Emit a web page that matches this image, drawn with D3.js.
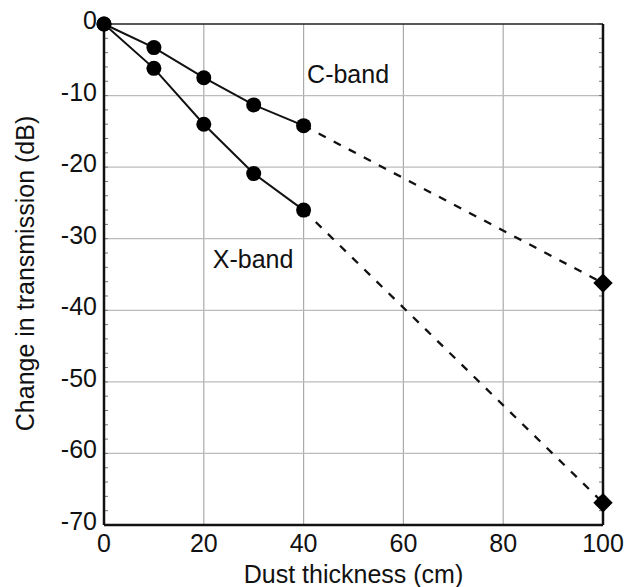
<!DOCTYPE html>
<html>
<head>
<meta charset="utf-8">
<script src="https://cdn.jsdelivr.net/npm/d3@7"></script>
<style>
  body { margin: 0; background: #fff; }
  text { font-family: "Liberation Sans", Arial, sans-serif; fill: #111; }
</style>
</head>
<body>
<svg id="chart" width="636" height="587"></svg>
<script>
// measured points
const thickness = [0, 10, 20, 30, 40];
const cBand = [0, -3.3, -7.5, -11.3, -14.2];
const xBand = [0, -6.2, -14.0, -20.9, -26.0];
// extrapolated values at 100 cm
const extrapX = 100;
const cBandExtrap = -36.2;
const xBandExtrap = -66.9;

const xTicks = [0, 20, 40, 60, 80, 100];
const yTicks = [0, -10, -20, -30, -40, -50, -60, -70];

const svg = d3.select("#chart");
const margin = {left: 104, top: 24, right: 33, bottom: 62};
const width = 636 - margin.left - margin.right;
const height = 587 - margin.top - margin.bottom;

const x = d3.scaleLinear().domain([0, 100]).range([0, width]);
const y = d3.scaleLinear().domain([0, -70]).range([0, height]);

const g = svg.append("g").attr("transform", `translate(${margin.left},${margin.top})`);

// grid
g.selectAll(".vgrid").data(xTicks.slice(1, -1)).enter().append("line")
  .attr("x1", d => x(d)).attr("x2", d => x(d))
  .attr("y1", 0).attr("y2", height)
  .attr("stroke", "#aaa").attr("stroke-width", 1.2);
g.selectAll(".hgrid").data(yTicks.slice(1, -1)).enter().append("line")
  .attr("x1", 0).attr("x2", width)
  .attr("y1", d => y(d)).attr("y2", d => y(d))
  .attr("stroke", "#bbb").attr("stroke-width", 1.2);

// minor ticks on left and right axes (every 2 dB, inside)
const minor = d3.range(0, -70.01, -2);
g.selectAll(".mtl").data(minor).enter().append("line")
  .attr("x1", 0).attr("x2", 4).attr("y1", d => y(d)).attr("y2", d => y(d))
  .attr("stroke", "#777").attr("stroke-width", 1);
g.selectAll(".mtr").data(minor).enter().append("line")
  .attr("x1", width).attr("x2", width - 4).attr("y1", d => y(d)).attr("y2", d => y(d))
  .attr("stroke", "#777").attr("stroke-width", 1);

// frame
g.append("line").attr("x1", 0).attr("x2", width).attr("y1", 0).attr("y2", 0)
  .attr("stroke", "#222").attr("stroke-width", 1.5);
g.append("line").attr("x1", width).attr("x2", width).attr("y1", 0).attr("y2", height)
  .attr("stroke", "#111").attr("stroke-width", 2.5);
g.append("line").attr("x1", 0).attr("x2", 0).attr("y1", 0).attr("y2", height)
  .attr("stroke", "#111").attr("stroke-width", 2.5);
g.append("line").attr("x1", 0).attr("x2", width).attr("y1", height).attr("y2", height)
  .attr("stroke", "#111").attr("stroke-width", 2.5);

// tick labels
g.selectAll(".xl").data(xTicks).enter().append("text")
  .attr("x", d => x(d)).attr("y", height + 27)
  .attr("text-anchor", "middle").attr("font-size", 25)
  .text(d => d);
g.selectAll(".yl").data(yTicks).enter().append("text")
  .attr("x", -7).attr("y", d => y(d) + 5)
  .attr("text-anchor", "end").attr("font-size", 25)
  .text(d => d === 0 ? "0" : "-" + Math.abs(d));

// axis titles
g.append("text").attr("x", width / 2).attr("y", height + 58)
  .attr("text-anchor", "middle").attr("font-size", 25)
  .text("Dust thickness (cm)");
g.append("text").attr("transform", `translate(${-70},${height / 2 - 1}) rotate(-90)`)
  .attr("text-anchor", "middle").attr("font-size", 25)
  .text("Change in transmission (dB)");

// lines
const line = d3.line().x(d => x(d[0])).y(d => y(d[1]));
const series = [cBand, xBand];
const extraps = [cBandExtrap, xBandExtrap];
series.forEach((vals, i) => {
  const pts = thickness.map((t, j) => [t, vals[j]]);
  g.append("path").datum(pts).attr("d", line)
    .attr("fill", "none").attr("stroke", "#111").attr("stroke-width", 2);
  g.append("path").datum([[thickness[thickness.length - 1], vals[vals.length - 1]], [extrapX, extraps[i]]])
    .attr("d", line).attr("fill", "none").attr("stroke", "#111")
    .attr("stroke-width", 2.3).attr("stroke-dasharray", "8,9");
  g.selectAll(null).data(pts).enter().append("circle")
    .attr("cx", d => x(d[0])).attr("cy", d => y(d[1])).attr("r", 7.5)
    .attr("fill", "#000");
  g.append("path")
    .attr("d", d3.symbol().type(d3.symbolDiamond2).size(240)())
    .attr("transform", `translate(${x(extrapX)},${y(extraps[i])})`)
    .attr("fill", "#000");
});

// labels
g.append("text").attr("x", x(40.7)).attr("y", y(-8.24)).attr("font-size", 25).text("C-band");
g.append("text").attr("x", x(21.8)).attr("y", y(-34.1)).attr("font-size", 25).text("X-band");
</script>
</body>
</html>
